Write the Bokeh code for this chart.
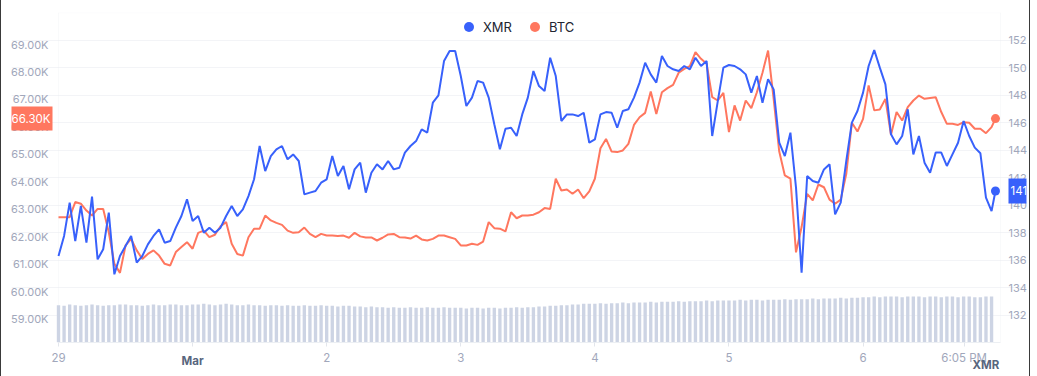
from bokeh.plotting import figure
from bokeh.models import (Range1d, LinearAxis, FixedTicker, Legend, LegendItem, Label,
                          BoxAnnotation)
from bokeh.embed import file_html
from bokeh.resources import INLINE

# ---------------- data ----------------
# hours since 29 Feb 00:00
hours = list(range(168)) + [167.7]

xmr_price = [
    136.29, 137.75, 140.17, 137.38, 139.93, 137.26, 140.61, 136.05, 136.78, 139.44,
    134.96, 136.29, 137.02, 137.75, 135.81, 136.29, 137.14, 137.75, 138.23, 137.26,
    137.38, 138.35, 139.20, 140.41, 138.84, 139.20, 137.99, 138.35, 137.99, 138.35,
    139.20, 139.93, 139.20, 139.68, 140.65, 141.87, 144.29, 142.47, 143.56, 144.05,
    144.29, 143.32, 143.68, 143.20, 140.77, 140.90, 141.02, 141.62, 141.87, 143.56,
    142.11, 142.84, 141.14, 142.59, 143.08, 140.90, 142.35, 142.96, 142.59, 143.20,
    142.59, 142.71, 143.81, 144.29, 144.65, 145.50, 145.26, 147.44, 147.97, 150.47,
    151.20, 151.20, 149.38, 147.20, 147.81, 149.02, 148.90, 147.81, 145.87, 144.05,
    145.55, 145.62, 145.02, 146.59, 147.81, 149.74, 148.65, 148.29, 150.71, 149.38,
    146.11, 146.59, 146.59, 146.47, 146.71, 144.53, 144.77, 146.59, 146.76, 146.71,
    145.62, 146.84, 146.96, 147.81, 148.90, 150.35, 149.50, 148.90, 150.84, 150.11,
    149.87, 149.74, 150.11, 149.87, 150.71, 150.11, 150.47, 145.02, 147.56, 149.99,
    150.18, 150.11, 149.87, 149.50, 148.17, 149.38, 147.44, 149.14, 148.41, 144.53,
    143.56, 145.26, 141.26, 135.08, 142.11, 141.74, 141.62, 142.59, 142.96, 139.32,
    140.17, 143.20, 145.99, 146.84, 148.17, 150.11, 151.27, 149.99, 148.77, 145.14,
    144.41, 145.02, 146.96, 143.68, 145.02, 143.08, 142.35, 143.81, 143.81, 142.84,
    143.68, 144.53, 146.11, 145.02, 144.17, 143.76, 140.53, 139.56, 141.02,
]

btc_price = [
    62710, 62710, 62710, 63260, 63200, 62950, 62770, 63010, 63010, 62160,
    61010, 60680, 61680, 61920, 61500, 61190, 61370, 61500, 61310, 61010,
    60950, 61440, 61620, 61800, 61560, 62140, 62220, 61980, 62070, 62380,
    62530, 61740, 61370, 61310, 61980, 62290, 62290, 62770, 62590, 62500,
    62430, 62220, 62140, 62160, 62330, 62100, 61980, 62100, 62040, 62040,
    62020, 62040, 61960, 62140, 62010, 61970, 61970, 61860, 61960, 62080,
    62100, 61980, 61970, 61930, 62040, 61900, 61860, 61920, 62040, 62040,
    61980, 61920, 61680, 61680, 61740, 61700, 61820, 62530, 62310, 62290,
    62190, 62890, 62670, 62770, 62770, 62800, 62890, 63040, 63010, 64110,
    63680, 63720, 63560, 63720, 63400, 63650, 64110, 65220, 65560, 65100,
    65080, 65140, 65380, 66070, 66350, 66510, 67290, 66470, 67260, 67410,
    67530, 67970, 68110, 68210, 68720, 68480, 68300, 67080, 66960, 67240,
    65810, 66780, 66230, 66960, 66680, 67260, 67970, 68780, 67020, 65100,
    64230, 64110, 61430, 62350, 63560, 63320, 63900, 63800, 63350, 63200,
    63350, 64290, 66150, 65830, 66290, 67510, 66600, 66630, 67020, 65710,
    66540, 66230, 66720, 66960, 67140, 67020, 67050, 67080, 66540, 66110,
    66110, 66070, 66170, 66150, 65930, 65930, 65770, 65990, 66300,
]

volume_hours = list(range(168))
xmr_volume = [
    56, 55, 57, 56, 55, 56, 57, 56, 55, 56, 56, 57, 57, 56, 56, 55, 56, 57, 56, 56, 57, 57, 56, 56,
    57, 57, 58, 57, 56, 57, 58, 57, 56, 56, 57, 56, 56, 55, 56, 56, 55, 56, 55, 55, 56, 55, 55, 56,
    55, 55, 54, 55, 55, 54, 54, 53, 54, 53, 53, 52, 53, 52, 52, 53, 52, 52, 53, 52, 52, 53, 52, 52,
    52, 51, 52, 52, 51, 52, 52, 51, 52, 52, 53, 52, 53, 53, 54, 54, 55, 55, 56, 56, 57, 57, 58, 58,
    58, 59, 58, 59, 59, 60, 59, 60, 60, 60, 61, 60, 61, 61, 61, 62, 61, 62, 62, 62, 63, 62, 63, 63,
    63, 63, 64, 63, 64, 64, 63, 64, 64, 64, 65, 64, 65, 65, 65, 66, 65, 66, 66, 66, 67, 66, 67, 67,
    68, 68, 69, 68, 69, 69, 69, 68, 69, 69, 69, 68, 69, 69, 68, 69, 69, 68, 69, 69, 68, 68, 69, 69,
]

x_ticks = [0, 24, 48, 72, 96, 120, 144, 162.1]
x_tick_labels = ["29", "", "2", "3", "4", "5", "6", "6:05 PM"]
month_label = "Mar"
month_tick = 24
btc_ticks = [59000, 60000, 61000, 62000, 63000, 64000, 65000, 66000, 67000, 68000, 69000]
btc_tick_labels = ["59.00K", "60.00K", "61.00K", "62.00K", "63.00K", "64.00K",
                   "65.00K", "66.00K", "67.00K", "68.00K", "69.00K"]
xmr_ticks = [132, 134, 136, 138, 140, 142, 144, 146, 148, 150, 152]
unit_label = "XMR"
unit_tick = 166.0

# ---------------- layout (screen pixels) ----------------
T0, T1 = 0, 168.6            # visible time span of the chart body
Y0, Y1 = 130, 154            # XMR range of the chart body
PX_L, PX_R = 58, 1000        # where T0 and T1 sit on screen
FRAME_L, FRAME_R = 11, 1026  # drawing frame (wider so the value tags are not clipped)
pph = (PX_R - PX_L) / (T1 - T0)
x_lo = T0 - (PX_L - FRAME_L) / pph
x_hi = T1 + (FRAME_R - PX_R) / pph

FONT = "Inter"
BLUE = "#3861FB"
ORANGE = "#FF775F"
GRAY = "#a1a7bb"
DARK = "#58667e"
LINE = "#eceff3"

p = figure(width=1030, height=376, output_backend="svg", toolbar_location=None,
           x_range=Range1d(x_lo, x_hi), y_range=Range1d(Y0, Y1),
           y_axis_location="right",
           min_border_left=FRAME_L - 1, min_border_right=1031 - FRAME_R,
           min_border_top=12, min_border_bottom=34,
           background_fill_color="white", border_fill_color="white")
ax_r = p.right[0]            # the XMR price axis (grab it before other axes are added)
ax_b = p.below[0]            # the time axis

p.styles = {"border-left": "1px solid #3a3a3a", "border-right": "1px solid #3a3a3a"}
p.extra_y_ranges = {"btc": Range1d(58144, 70166), "vol": Range1d(0, 495)}
p.outline_line_color = None
p.xgrid.visible = False
p.ygrid.grid_line_color = "#f3f4f7"
p.ygrid.ticker = FixedTicker(ticks=xmr_ticks)
p.ygrid.bounds = (T0, T1)

# light border of the chart body
p.add_layout(BoxAnnotation(left=T0, right=T1, bottom=Y0, top=Y1 - 0.02,
                           fill_color=None, line_color=LINE, line_width=1,
                           level="underlay"))


def plain(ax, size="11px", color=GRAY):
    ax.axis_line_color = None
    ax.major_tick_line_color = None
    ax.minor_tick_line_color = None
    ax.major_tick_out = 0
    ax.major_tick_in = 0
    ax.minor_tick_out = 0
    ax.minor_tick_in = 0
    ax.major_label_text_font = FONT
    ax.major_label_text_font_size = size
    ax.major_label_text_color = color


# XMR price axis (right), labels start 8 px right of the chart body
ax_r.ticker = FixedTicker(ticks=xmr_ticks)
plain(ax_r)
ax_r.major_label_standoff = (PX_R + 8) - FRAME_R

# BTC price axis (left), labels end 10 px left of the chart body
ax_l = LinearAxis(y_range_name="btc", ticker=FixedTicker(ticks=btc_ticks),
                  major_label_overrides=dict(zip(btc_ticks, btc_tick_labels)))
plain(ax_l)
ax_l.major_label_standoff = -(PX_L - 10 - FRAME_L)
p.add_layout(ax_l, "left")

# time axis
ax_b.ticker = FixedTicker(ticks=x_ticks)
ax_b.major_label_overrides = dict(zip(x_ticks, x_tick_labels))
ax_b.bounds = (T0, T1)
ax_b.axis_line_color = LINE
ax_b.major_tick_line_color = "#e3e6ec"
ax_b.major_tick_out = 4
ax_b.major_tick_in = 0
ax_b.minor_tick_line_color = None
ax_b.major_label_standoff = 4
ax_b.major_label_text_font = FONT
ax_b.major_label_text_font_size = "11.5px"
ax_b.major_label_text_color = GRAY

ax_m = LinearAxis(ticker=FixedTicker(ticks=[month_tick]),
                  major_label_overrides={month_tick: month_label})
plain(ax_m, "11.5px", DARK)
ax_m.major_label_standoff = -14
ax_m.major_label_text_font_style = "bold"
p.add_layout(ax_m, "below")

ax_u = LinearAxis(ticker=FixedTicker(ticks=[unit_tick]),
                  major_label_overrides={unit_tick: unit_label})
plain(ax_u, "11.5px", DARK)
ax_u.major_label_standoff = -13
ax_u.major_label_text_font_style = "bold"
p.add_layout(ax_u, "below")

# volume bars
p.vbar(x=volume_hours, top=xmr_volume, bottom=0, width=0.6, y_range_name="vol",
       fill_color="#cdd4e4", line_color=None)

# price lines
p.line(hours, btc_price, y_range_name="btc", line_color=ORANGE, line_width=2)
p.line(hours, xmr_price, line_color=BLUE, line_width=2)

dot_b = p.scatter([hours[-1]], [btc_price[-1]], y_range_name="btc", size=9,
                  fill_color=ORANGE, line_color=None)
dot_x = p.scatter([hours[-1]], [xmr_price[-1]], size=9, fill_color=BLUE, line_color=None)

legend = Legend(items=[LegendItem(label="XMR", renderers=[dot_x]),
                       LegendItem(label="BTC", renderers=[dot_b])],
                orientation="horizontal", location=(398 + PX_L - FRAME_L, 303),
                padding=0, margin=0, spacing=10, glyph_width=25, glyph_height=25,
                label_standoff=2, label_text_font=FONT, label_text_font_size="13px",
                label_text_color="#222531", border_line_color=None,
                background_fill_alpha=0)
p.add_layout(legend, "center")

# last-value tags
p.add_layout(Label(x=T0 - 6 / pph, y=btc_price[-1], y_range_name="btc",
                   text=f"{btc_price[-1] / 1000:.2f}K", text_align="right",
                   text_baseline="middle", text_color="white", text_font=FONT,
                   text_font_size="11.5px", background_fill_color=ORANGE,
                   padding=(2, 5)))
p.add_layout(Label(x=T1 + 8 / pph, y=xmr_price[-1],
                   text=f"{xmr_price[-1]:.0f}", text_align="left",
                   text_baseline="middle", text_color="white", text_font=FONT,
                   text_font_size="11.5px", background_fill_color=BLUE,
                   padding=(2, 8)))

open("out.html", "w").write(file_html(p, INLINE))
